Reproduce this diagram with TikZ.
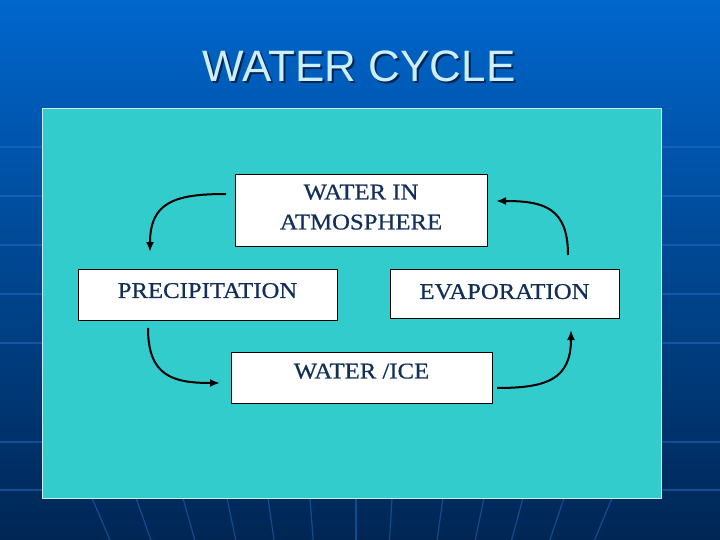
\documentclass[tikz,border=0pt]{standalone}
\usepackage{fontspec}
\usetikzlibrary{arrows.meta}
\setmainfont{Liberation Serif}[FakeStretch=1.1, FakeBold=0.6]
\newfontfamily\titlefont{Liberation Sans}
\definecolor{skytop}{RGB}{0,102,204}
\definecolor{skymid}{RGB}{0,72,152}
\definecolor{skybot}{RGB}{0,38,84}
\definecolor{gridblue}{RGB}{40,110,200}
\definecolor{panelteal}{RGB}{51,204,204}
\definecolor{navy}{RGB}{18,47,88}
\definecolor{titlecol}{RGB}{204,238,255}

\begin{document}
\begin{tikzpicture}
[every node/.style={inner sep=0pt},
 cyclebox/.style={rectangle, anchor=north, fill=white, draw=black, line width=0.9pt, text=navy, font=\fontsize{22.5}{30}\selectfont, align=center},
 flow/.style={line width=2pt, -{Latex[length=10pt,width=8pt]}, color=black, looseness=1.35},
 gridline/.style={line width=1.2pt, color=gridblue, opacity=0.5}]
\useasboundingbox (0pt,0pt) rectangle (720pt,-540pt);
\shade [top color=skytop, middle color=skymid, bottom color=skybot] (0pt,0pt) rectangle (720pt,-540pt);
\foreach \y in {147,196,245,294,343,442,490}
  \draw [gridline] (0pt,-\y pt) -- (720pt,-\y pt);
\foreach \x [evaluate=\x as \xt using 356+(\x-356)*1.159, evaluate=\x as \xb using 356+(\x-356)*0.932] in {92,136,183,227,268,310,356,392,443,484,523,564,612}
  \draw [gridline] (\xt pt,-400pt) -- (\xb pt,-540pt);
\node (panel) [rectangle, anchor=north west, fill=panelteal, draw=titlecol, line width=1pt, minimum width=619pt, minimum height=390pt] at (42pt,-108pt) {};
\node (titleshadow) [text=skybot, font=\titlefont\fontsize{44}{44}\selectfont] at (361pt,-68.5pt) {WATER CYCLE};
\node (title) [text=titlecol, font=\titlefont\fontsize{44}{44}\selectfont] at (359pt,-66.5pt) {WATER CYCLE};
\node (atm) [cyclebox, minimum width=252pt, text height=55pt, text depth=17pt] at (361pt,-174pt) {WATER IN\\ATMOSPHERE};
\node (prec) [cyclebox, minimum width=259pt, text height=28.5pt, text depth=22.5pt] at (207.5pt,-269pt) {PRECIPITATION};
\node (evap) [cyclebox, minimum width=229pt, text height=29.5pt, text depth=19.5pt] at (504.5pt,-269pt) {EVAPORATION};
\node (ice) [cyclebox, minimum width=261pt, text height=26pt, text depth=25pt] at (361.5pt,-352pt) {WATER /ICE};
\coordinate (atmL) at (226pt,-194pt);
\coordinate (precT) at (150pt,-252pt);
\coordinate (precB) at (148pt,-328pt);
\coordinate (iceL) at (220pt,-383pt);
\coordinate (iceR) at (497pt,-388pt);
\coordinate (evapB) at (571pt,-330pt);
\coordinate (evapT) at (568pt,-255pt);
\coordinate (atmR) at (496pt,-201pt);
\draw [flow] (atmL) to [out=180, in=90] (precT);
\draw [flow] (precB) to [out=-90, in=180] (iceL);
\draw [flow] (iceR) to [out=0, in=-90] (evapB);
\draw [flow] (evapT) to [out=90, in=0] (atmR);
\end{tikzpicture}
\end{document}
